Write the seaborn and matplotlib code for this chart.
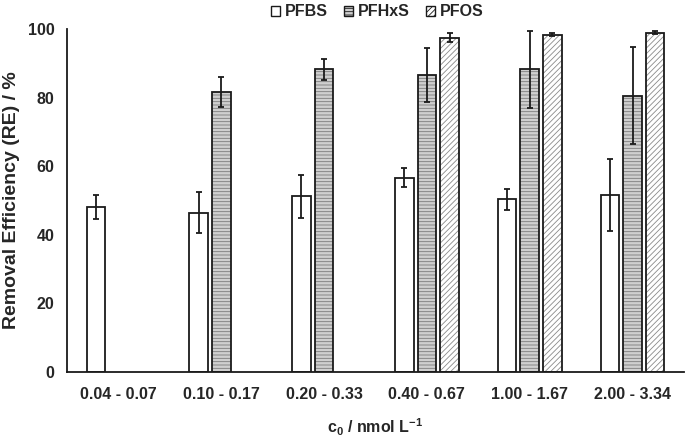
import matplotlib
matplotlib.use("Agg")
import matplotlib.pyplot as plt
import seaborn as sns
import numpy as np
import pandas as pd

categories = ["0.04 - 0.07", "0.10 - 0.17", "0.20 - 0.33", "0.40 - 0.67", "1.00 - 1.67", "2.00 - 3.34"]
series = ["PFBS", "PFHxS", "PFOS"]
pfbs = [48.0, 46.4, 51.2, 56.6, 50.3, 51.7]
pfbs_err = [3.5, 6.0, 6.2, 2.8, 3.1, 10.5]
pfhxs = [np.nan, 81.7, 88.3, 86.6, 88.2, 80.6]
pfhxs_err = [np.nan, 4.3, 3.1, 8.0, 11.2, 14.2]
pfos = [np.nan, np.nan, np.nan, 97.5, 98.4, 98.9]
pfos_err = [np.nan, np.nan, np.nan, 1.4, 0.5, 0.4]
yticks = [0, 20, 40, 60, 80, 100]

sns.set_style("white")
FAM = ['Liberation Sans', 'DejaVu Sans']
plt.rcParams['font.family'] = FAM
plt.rcParams['mathtext.fontset'] = 'custom'
plt.rcParams['mathtext.rm'] = 'Liberation Sans:bold'
plt.rcParams['mathtext.bf'] = 'Liberation Sans:bold'
plt.rcParams['mathtext.it'] = 'Liberation Sans:bold'
plt.rcParams['hatch.linewidth'] = 0.6
FS = 11.5

rows = []
for s, vals, errs in zip(series, [pfbs, pfhxs, pfos], [pfbs_err, pfhxs_err, pfos_err]):
    for c, v, e in zip(categories, vals, errs):
        rows.append({"cat": c, "series": s, "value": v, "err": e})
df = pd.DataFrame(rows)

fig = plt.figure(figsize=(6.85, 4.37), dpi=100)
ax = fig.add_axes([0.0978, 0.1487, 0.9007, 0.7849])

sns.barplot(data=df, x="cat", y="value", hue="series", order=categories, hue_order=series,
            palette=["white", "#cfcfcf", "white"], width=0.66, gap=0.18, errorbar=None,
            edgecolor="#1a1a1a", linewidth=1.3, ax=ax, legend=True)

hatches = [None, "-----", "//////"]
hcols = [None, "#7a7a7a", "#8a8a8a"]
for cont, h, hc, s in zip(ax.containers, hatches, hcols, series):
    sub = df[df.series == s].reset_index(drop=True)
    xs, ys, es = [], [], []
    for p in cont.patches:
        if h:
            p.set_hatch(h)
            p._hatch_color = matplotlib.colors.to_rgba(hc)
        xc = p.get_x() + p.get_width() / 2
        idx = int(round(xc))
        v = sub.loc[idx, "value"]
        e = sub.loc[idx, "err"]
        if not np.isnan(v):
            xs.append(xc); ys.append(v); es.append(e)
    ax.errorbar(xs, ys, yerr=es, fmt="none", ecolor="#1a1a1a",
                elinewidth=1.3, capsize=2.5, capthick=1.3, zorder=5)

ax.set_ylim(0, 100)
ax.set_xlim(-0.5, len(categories) - 0.5)
ax.set_yticks(yticks)
ax.set_yticklabels([str(t) for t in yticks], fontsize=FS, fontweight="bold")
ax.set_xticks(range(len(categories)))
ax.set_xticklabels(categories, fontsize=FS, fontweight="bold")
ax.set_xticks(np.arange(-0.5, len(categories) + 0.5, 1), minor=True)
ax.tick_params(axis="x", which="major", length=0, pad=11)
ax.tick_params(axis="x", which="minor", length=5, width=1.3, direction="out", color="#1a1a1a")
ax.tick_params(axis="y", length=4, width=1.3, direction="out", color="#1a1a1a", pad=5)
ax.set_xlabel("c$_0$ / nmol L$^{-1}$", fontsize=FS, fontweight="bold", labelpad=10)
ax.set_ylabel("Removal Efficiency (RE) / %", fontsize=14, fontweight="bold")
ax.yaxis.set_label_coords(-0.076, 0.5)
for sp in ["top", "right"]:
    ax.spines[sp].set_visible(False)
for sp in ["left", "bottom"]:
    ax.spines[sp].set_linewidth(1.3)
    ax.spines[sp].set_color("#1a1a1a")

handles, labels = ax.get_legend_handles_labels()
for hd, h, hc in zip(handles, hatches, hcols):
    if h:
        hd.set_hatch(h)
        hd._hatch_color = matplotlib.colors.to_rgba(hc)
    hd.set_edgecolor("#1a1a1a")
    hd.set_linewidth(1.0)
ax.legend(handles, labels, loc="center", bbox_to_anchor=(0.503, 1.05), ncol=3, frameon=False,
          prop={"size": FS, "weight": "bold"}, handlelength=0.56, handleheight=0.56,
          handletextpad=0.31, columnspacing=1.0, borderaxespad=0, borderpad=0)

fig.savefig("out.png", dpi=100)
